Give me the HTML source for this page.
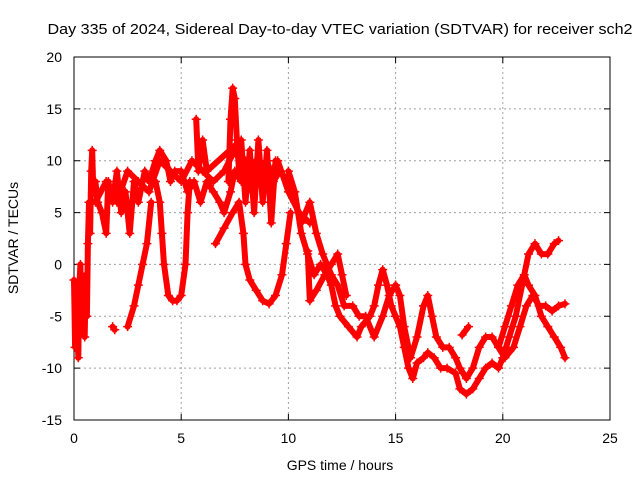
<!DOCTYPE html>
<html><head><meta charset="utf-8"><style>
body{margin:0;background:#fff;}
svg{display:block;font-family:"Liberation Sans",sans-serif;}
</style></head><body>
<svg id="chart" width="640" height="480">
<rect width="640" height="480" fill="#fff"/>
<text x="340" y="34" font-size="15" text-anchor="middle" textLength="585" lengthAdjust="spacingAndGlyphs">Day 335 of 2024, Sidereal Day-to-day VTEC variation (SDTVAR) for receiver sch2</text>
<g id="grid"></g>
<g id="axes"></g>
<g id="plot"></g>
<text x="340" y="470" font-size="14" text-anchor="middle">GPS time / hours</text>
<text x="0" y="0" font-size="14" text-anchor="middle" transform="translate(18,238) rotate(-90)">SDTVAR / TECUs</text>
</svg>
<script>
const xTicks=[0,5,10,15,20,25];
const yTicks=[-15,-10,-5,0,5,10,15,20];
const track0=[[0,-1.5],[0.05,-8],[0.15,-4],[0.2,-9],[0.25,-2],[0.3,0],[0.35,-6],[0.45,-3],[0.5,-7],[0.55,-1],[0.6,-5],[0.65,2],[0.7,6],[0.75,3],[0.8,9],[0.85,11],[0.9,7]];
const track1=[[0.9,7],[1.0,8],[1.1,6],[1.3,5],[1.5,3],[1.6,8],[1.8,6],[2.0,9],[2.2,5],[2.4,7],[2.6,3],[2.8,8],[3.0,6],[3.3,9],[3.5,8],[3.8,10],[4.0,11],[4.3,10],[4.5,8],[4.7,9],[5.0,9],[5.3,7],[5.6,8],[5.9,6],[6.2,8],[6.5,7],[6.8,6],[7.0,5],[7.3,7],[7.5,9],[7.8,8],[8.0,10],[8.3,7],[8.6,9],[9.0,10],[9.3,8],[9.6,9],[10,8],[10.3,6],[10.6,4],[11,6],[11.3,3],[11.6,1],[12,-1],[12.3,-2],[12.6,-4],[13,-4],[13.3,-5],[13.6,-5],[14,-7],[14.4,-5],[14.7,-3],[15,-2]];
const track2=[[2.5,-6],[2.8,-4],[3.0,-2],[3.2,0],[3.4,2],[3.6,6]];
const track3=[[3.8,8],[4.0,6],[4.1,3],[4.2,0],[4.4,-3],[4.6,-3.5],[4.8,-3.5],[5.0,-3],[5.2,0],[5.3,5],[5.4,8]];
const track4=[[6.6,2],[7.0,3.5],[7.4,5],[7.7,6],[7.9,3],[8.0,0],[8.2,-1.5],[8.5,-2.5],[8.8,-3.5],[9.1,-3.8],[9.4,-3],[9.7,-1],[9.9,2],[10.1,5]];
const track5=[[7.2,8],[7.3,14],[7.4,17],[7.5,16],[7.6,12],[7.7,9]];
const track6=[[10.0,9],[10.3,7],[10.6,3],[10.9,1],[11.2,-1],[11.5,0],[11.8,-1],[12.0,-2],[12.2,-4],[12.4,-5],[12.8,-6],[13.2,-7],[13.4,-6],[13.8,-5],[14.0,-4],[14.2,-2],[14.4,-0.5],[14.6,-2],[14.8,-4],[15.0,-5]];
const track7=[[10.9,1.3],[11.0,-3.5],[11.3,-2.5],[11.7,-1],[12.0,0],[12.3,1],[12.5,-1],[12.7,-3]];
const track8=[[15.0,-5],[15.2,-6],[15.4,-8],[15.6,-10],[15.8,-11],[16.0,-9.5],[16.3,-9],[16.5,-8.5],[16.8,-9],[17.1,-10],[17.4,-10],[17.8,-10.5],[18.0,-12],[18.3,-12.5],[18.6,-12],[18.9,-11],[19.2,-10],[19.5,-9.5],[19.8,-10],[20.0,-9],[20.3,-7],[20.6,-5],[20.9,-2],[21.2,1],[21.5,2],[21.8,1],[22.1,1],[22.4,2],[22.6,2.3]];
const track9=[[15.0,-2],[15.2,-3],[15.4,-6],[15.7,-9],[16.0,-7],[16.3,-4],[16.5,-3],[16.7,-5],[16.9,-7],[17.2,-8],[17.5,-8],[17.8,-9],[18.0,-10],[18.3,-11],[18.6,-10],[18.9,-8],[19.2,-7],[19.5,-7],[19.8,-8],[20.1,-6],[20.4,-4],[20.7,-2],[21.0,-1],[21.2,-2],[21.5,-3],[21.8,-5],[22.1,-6],[22.4,-7],[22.7,-8],[22.9,-9]];
const track10=[[19.8,-8],[20.1,-9],[20.5,-8],[20.8,-6],[21.1,-4],[21.4,-3],[21.7,-4],[22.0,-4],[22.3,-4.5],[22.6,-4],[22.9,-3.8]];
const track11=[[1.8,-6],[1.9,-6.3]];
const track12=[[18.1,-6.8],[18.4,-6]];
const track13=[[1,6],[1.5,8],[2,6],[2.5,9],[3,8],[3.5,7],[4,10],[4.5,9],[5,8],[5.5,10],[6,9],[6.5,8],[7,9],[7.5,11],[8,9],[8.5,10],[9,8],[9.5,10],[10,7],[10.5,5],[11,4]];
const track14=[[5.7,14],[5.8,9],[6.0,12],[6.2,9],[7.8,12],[8.0,6],[8.2,11],[8.4,5],[8.6,12],[8.8,6],[9.0,11],[9.2,4],[9.4,10]];
const tracks=[track0,track1,track2,track3,track4,track5,track6,track7,track8,track9,track10,track11,track12,track13,track14];

const X0=74,X1=610,Y0=420,Y1=57;
function sx(t){return X0+(t-0)/(25-0)*(X1-X0);}
function sy(v){return Y0-(v+15)/(20+15)*(Y0-Y1);}
const NS="http://www.w3.org/2000/svg";
function mk(tag,attrs,parent){const e=document.createElementNS(NS,tag);for(const k in attrs)e.setAttribute(k,attrs[k]);parent.appendChild(e);return e;}
const grid=document.getElementById('grid'),axes=document.getElementById('axes'),plot=document.getElementById('plot');
xTicks.forEach(t=>{
  const x=sx(t);
  if(t>0&&t<25){const g=mk('line',{x1:x,x2:x,y1:Y1,y2:Y0,stroke:'#a0a0a0','stroke-dasharray':'2,3'},grid);
  
  }
  const tk=mk('path',{d:`M${x},${Y0}v-6M${x},${Y1}v6`,stroke:'#000'},axes);
  
  
  const l=mk('text',{x:x,y:Y0+23,'font-size':14,'text-anchor':'middle'},axes);l.textContent=t;
  
  
});
yTicks.forEach(v=>{
  const y=sy(v);
  if(v>-15&&v<20){const g=mk('line',{x1:X0,x2:X1,y1:y,y2:y,stroke:'#a0a0a0','stroke-dasharray':'2,3'},grid);
  
  }
  const tk=mk('path',{d:`M${X0},${y}h6M${X1},${y}h-6`,stroke:'#000'},axes);
  
  
  const l=mk('text',{x:X0-12,y:y+5,'font-size':14,'text-anchor':'end'},axes);l.textContent=v;
  
  
});
const fr=mk('rect',{x:X0,y:Y1,width:X1-X0,height:Y0-Y1,fill:'none',stroke:'#000'},axes);


tracks.forEach(tr=>{
  const pts=tr.map(p=>sx(p[0]).toFixed(1)+','+sy(p[1]).toFixed(1)).join(' ');
  const pl=mk('polyline',{points:pts,fill:'none',stroke:'#ff0000','stroke-width':6,'stroke-linejoin':'round','stroke-linecap':'round'},plot);
  
  
  let d='';
  tr.forEach(p=>{const x=sx(p[0]),y=sy(p[1]);d+=`M${x-4.5},${y}h9M${x},${y-4.5}v9`;});
  const m=mk('path',{d:d,stroke:'#ff0000','stroke-width':1.5,fill:'none'},plot);
  
  
});
</script>
</body></html>
